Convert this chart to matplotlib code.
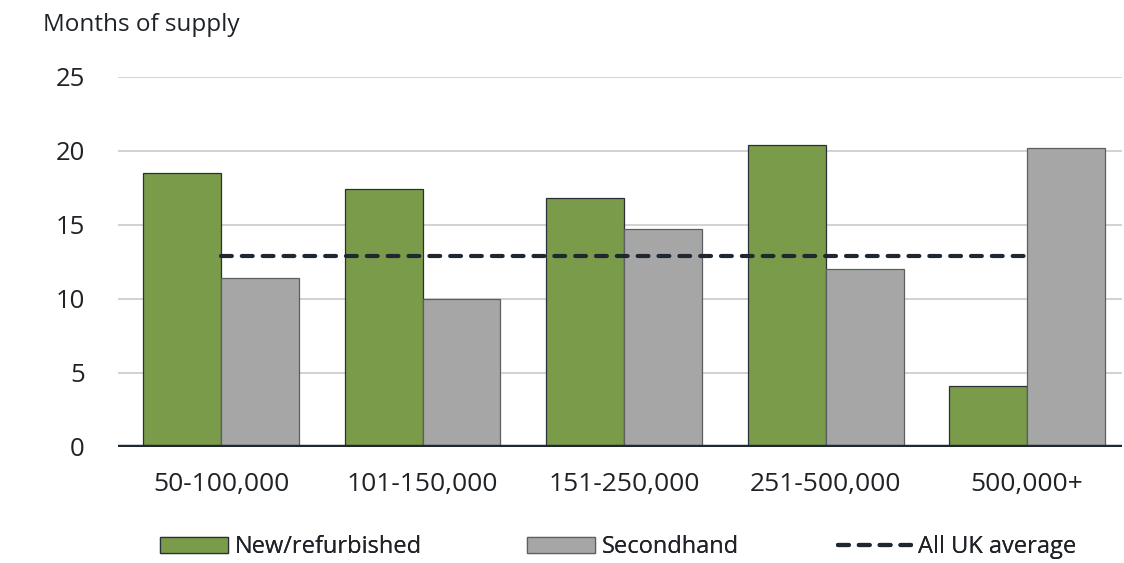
import matplotlib
matplotlib.use("Agg")
import matplotlib.pyplot as plt
from matplotlib.patches import Patch
from matplotlib.lines import Line2D
import numpy as np

plt.rcParams['font.family'] = ['Open Sans', 'DejaVu Sans']

categories = ["50-100,000", "101-150,000", "151-250,000", "251-500,000", "500,000+"]
new_refurbished = [18.5, 17.4, 16.8, 20.4, 4.1]
secondhand = [11.4, 10.0, 14.7, 12.0, 20.2]
uk_average = 12.9
y_ticks = [0, 5, 10, 15, 20, 25]

GREEN = "#7a9b4a"
GREY = "#a6a6a6"
EDGE = "#2a3036"
GREY_EDGE = "#5a5f63"
DARK = "#1f2830"
TEXT = "#1f2328"

W, H = 1124, 563
fig = plt.figure(figsize=(W / 100, H / 100), dpi=100)
ax = fig.add_axes([118 / W, 1 - 447 / H, (1122 - 118) / W, (447 - 77) / H])

x = np.arange(len(categories))
w = 0.387
ax.bar(x - w / 2, new_refurbished, width=w, color=GREEN, edgecolor=EDGE, linewidth=0.9, zorder=3)
ax.bar(x + w / 2, secondhand, width=w, color=GREY, edgecolor=GREY_EDGE, linewidth=0.9, zorder=3)

ax.plot([x[0], x[-1]], [uk_average, uk_average], color=DARK, linewidth=3.0,
        dashes=(2.6, 2.4), dash_capstyle="round", zorder=4)

for t in y_ticks[1:]:
    ax.axhline(t, color="#cfcfcf", linewidth=1.3, zorder=1)
ax.axhline(0, color=DARK, linewidth=3.2, zorder=5)

ax.set_xlim(-0.511, 4.471)
ax.set_ylim(0, 25)
ax.set_yticks(y_ticks)
ax.set_yticklabels([str(t) for t in y_ticks], fontsize=18.5, color=TEXT)
ax.set_xticks(x)
ax.set_xticklabels(categories, fontsize=19, color=TEXT)
ax.tick_params(axis="y", length=0, pad=23.8)
ax.tick_params(axis="x", length=0, pad=18)
for s in ax.spines.values():
    s.set_visible(False)

fig.text(43 / W, 1 - 25 / H, "Months of supply", fontsize=17.5, color=TEXT,
         ha="left", va="center")

# legend entries placed individually along the bottom
entries = [
    (Patch(facecolor=GREEN, edgecolor=EDGE, linewidth=0.9), "New/refurbished", 160, 2.88),
    (Patch(facecolor=GREY, edgecolor=GREY_EDGE, linewidth=0.9), "Secondhand", 527, 2.88),
    (Line2D([0], [0], color=DARK, linewidth=3.0, dashes=(2.6, 2.4), dash_capstyle="round"),
     "All UK average", 838, 3.1),
]
for handle, label, left, hl in entries:
    leg = fig.legend([handle], [label], loc="center left",
                     bbox_to_anchor=(left / W, 1 - 547 / H), frameon=False,
                     fontsize=17, handlelength=hl, handleheight=0.68,
                     handletextpad=0.3, labelcolor=TEXT, borderpad=0,
                     borderaxespad=0)
    fig.add_artist(leg)

fig.savefig("out.png", dpi=100)
